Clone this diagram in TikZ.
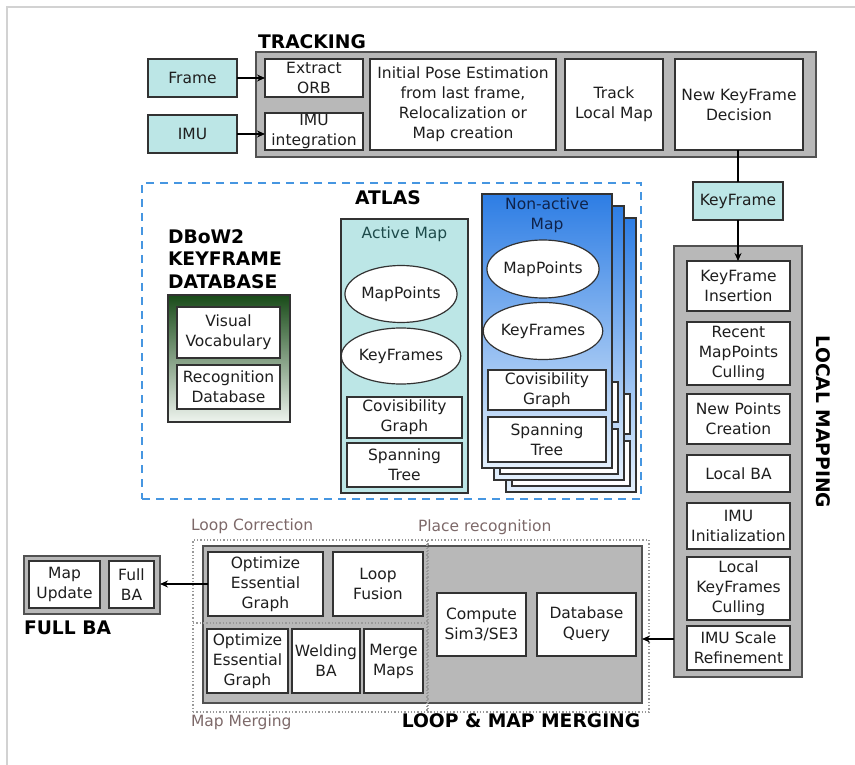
\documentclass[tikz,border=0pt]{standalone}
\usepackage{fontspec}
\setmainfont{DejaVu Sans}
\usetikzlibrary{arrows.meta,shapes.geometric,calc}
\definecolor{teal1}{RGB}{188,230,230}
\definecolor{grayfill}{RGB}{184,184,184}
\definecolor{bord}{RGB}{50,50,50}
\definecolor{txt}{RGB}{30,30,30}
\definecolor{dashblue}{RGB}{70,150,225}
\definecolor{lbl}{RGB}{125,105,105}
\definecolor{navy}{RGB}{15,35,75}
\definecolor{tealtxt}{RGB}{30,75,75}
\definecolor{bluetop}{RGB}{45,125,228}
\definecolor{bluebot}{RGB}{228,240,252}
\definecolor{greentop}{RGB}{25,75,25}
\definecolor{greenbot}{RGB}{238,244,238}
\begin{document}
\begin{tikzpicture}[x=1pt,y=-1pt,
  every node/.style={font=\fontsize{15.5}{20}\selectfont, text=txt, align=center, inner sep=0pt, outer sep=0pt},
  wh/.style 2 args={minimum width=#1pt, minimum height=#2pt},
  wbox/.style={rectangle, draw=bord, line width=1.3pt, fill=white},
  gbox/.style={rectangle, draw=bord!85, line width=1.8pt, fill=grayfill},
  tbox/.style={rectangle, draw=bord, line width=1.3pt, fill=teal1},
  ell/.style={ellipse, draw=bord, line width=1.2pt, fill=white},
  ttl/.style={font=\bfseries\fontsize{18.7}{22.5}\selectfont, text=black},
  sub/.style={text=lbl},
  dotbox/.style={draw=gray!80, line width=1.3pt, dotted},
  nabox/.style={rectangle, draw=bord, line width=1.3pt, top color=bluetop, bottom color=bluebot},
  arr/.style={draw=black, line width=1.1pt, -{Stealth[length=8pt,width=7pt]}},
  ln/.style={draw=black, line width=1.1pt}
]
\useasboundingbox (0,0) rectangle (855,765);
\draw[line width=2pt, color=gray!35] (7,765) -- (7,7) -- (855,7);

% ---------------- TRACKING
\node[ttl] (trackttl) at (312,42) {TRACKING};
\node[gbox, wh={560}{105}] (track) at (536,104.5) {};
\node[wbox, wh={98}{38}] (orb) at (314,78) {Extract\\ORB};
\node[wbox, wh={98}{37}] (imuint) at (314,131.5) {IMU\\integration};
\node[wbox, wh={186}{91}] (pose) at (463,104.5) {Initial Pose Estimation\\from last frame,\\Relocalization or\\Map creation};
\node[wbox, wh={98}{91}] (tlm) at (614,104.5) {Track\\Local Map};
\node[wbox, wh={128}{91}] (nkd) at (739,104.5) {New KeyFrame\\Decision};
\node[tbox, wh={89}{38}] (frame) at (192.5,78) {Frame};
\node[tbox, wh={89}{38}] (imu) at (192.5,134) {IMU};
\draw[arr] (frame.east) -- (orb.west);
\draw[arr] (imu.east) -- (imu.east -| imuint.west);

% ---------------- KeyFrame + LOCAL MAPPING
\node[tbox, wh={90}{38}] (kf) at (738,201) {KeyFrame};
\node[gbox, wh={128}{431}] (lm) at (738,461.5) {};
\node[wbox, wh={103}{50}] (kfi) at (738.5,286) {KeyFrame\\Insertion};
\node[wbox, wh={103}{63}] (rmc) at (738.5,353.5) {Recent\\MapPoints\\Culling};
\node[wbox, wh={103}{50}] (npc) at (738.5,419) {New Points\\Creation};
\node[wbox, wh={103}{37}] (lba) at (738.5,473.5) {Local BA};
\node[wbox, wh={103}{46}] (imui) at (738.5,526) {IMU\\Initialization};
\node[wbox, wh={103}{63}] (lkc) at (738.5,588.5) {Local\\KeyFrames\\Culling};
\node[wbox, wh={103}{44}] (imusr) at (738.5,648) {IMU Scale\\Refinement};
\node[ttl, rotate=-90] (lmttl) at (823,422) {LOCAL MAPPING};
\draw[ln] (kf.north |- nkd.south) -- (kf.north);
\draw[arr] (kf.south) -- (kf.south |- kfi.north);

% ---------------- ATLAS
\node[draw=dashblue, line width=2pt, dash pattern=on 8pt off 6pt, rectangle, wh={499}{316}] (atlas) at (391.5,341) {};
\node[ttl] (atlasttl) at (388,198) {ATLAS};

\node[ttl, align=left, anchor=west] (dbowttl) at (168,259) {DBoW2\\KEYFRAME\\DATABASE};
\node[rectangle, draw=bord, line width=1.3pt, top color=greentop, bottom color=greenbot, wh={122}{127}] (dbow) at (229,358.5) {};
\node[wbox, wh={103}{51}] (vv) at (228.5,332.5) {Visual\\Vocabulary};
\node[wbox, wh={103}{44}] (rd) at (228.5,387) {Recognition\\Database};

\node[tbox, wh={127}{274}] (active) at (404.5,356) {};
\node[text=tealtxt] (activettl) at (404.5,234) {Active Map};
\node[ell, wh={108}{57}] (amp) at (401,294) {MapPoints};
\node[ell, wh={108}{56}] (akf) at (401,356) {KeyFrames};
\node[wbox, wh={115}{41}] (acov) at (404.5,417.5) {Covisibility\\Graph};
\node[wbox, wh={115}{44}] (aspt) at (404.5,465) {Spanning\\Tree};

% back layers of the non-active map stack
\foreach \k/\s in {2/24,1/12}{
  \begin{scope}[shift={(\s,\s)}]
    \node[nabox, wh={130}{274}] (na\k) at (547,331) {};
    \node[wbox, wh={118}{40}] (ncov\k) at (547,390) {};
    \node[wbox, wh={118}{45}] (nspt\k) at (547,439.5) {};
  \end{scope}
}
% front layer
\node[nabox, wh={130}{274}] (na0) at (547,331) {};
\node[text=navy] (nattl) at (547,215) {Non-active\\Map};
\node[ell, wh={110}{58}] (nmp) at (543,269) {MapPoints};
\node[ell, wh={110}{57}] (nkf) at (543,331) {KeyFrames};
\node[wbox, wh={118}{40}] (ncov) at (547,390) {Covisibility\\Graph};
\node[wbox, wh={118}{45}] (nspt) at (547,439.5) {Spanning\\Tree};

% ---------------- LOOP & MAP MERGING
\node[gbox, wh={439}{157}] (loop) at (422.5,624.5) {};
\node[dotbox, rectangle, wh={235}{83}] (lcreg) at (310.5,581.5) {};
\node[dotbox, rectangle, wh={235}{89}] (mmreg) at (310.5,667.5) {};
\node[dotbox, rectangle, wh={222}{172}] (prreg) at (538,626) {};
\node[sub, anchor=west] (lclbl) at (191,526) {Loop Correction};
\node[sub, anchor=west] (mmlbl) at (191,722) {Map Merging};
\node[sub, anchor=west] (prlbl) at (418,527) {Place recognition};
\node[ttl] (loopttl) at (521,721) {LOOP \& MAP MERGING};

\node[wbox, wh={115}{64}] (oeg1) at (265.5,584) {Optimize\\Essential\\Graph};
\node[wbox, wh={90}{64}] (lf) at (378,584) {Loop\\Fusion};
\node[wbox, wh={81}{64}] (oeg2) at (247.5,661) {Optimize\\Essential\\Graph};
\node[wbox, wh={68}{64}] (wba) at (326,661) {Welding\\BA};
\node[wbox, wh={59}{64}] (mm) at (393.5,661) {Merge\\Maps};
\node[wbox, wh={89}{63}] (cs) at (481.5,624.5) {Compute\\Sim3/SE3};
\node[wbox, wh={99}{63}] (dq) at (586.5,624.5) {Database\\Query};

% ---------------- FULL BA
\node[gbox, wh={136}{58}] (fba) at (92,585) {};
\node[wbox, wh={71}{47}] (mu) at (64.5,584.5) {Map\\Update};
\node[wbox, wh={45}{47}] (fbai) at (131.5,584.5) {Full\\BA};
\node[ttl, anchor=west] (fbattl) at (24,628) {FULL BA};

\draw[arr] (oeg1.west) -- (oeg1.west -| fba.east);
\coordinate (lmout) at (674,639);
\draw[arr] (lmout) -- (lmout -| loop.east);
\end{tikzpicture}
\end{document}
